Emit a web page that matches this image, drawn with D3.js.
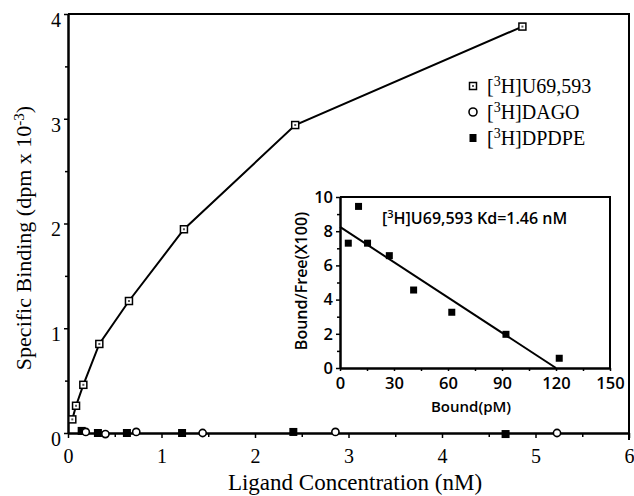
<!DOCTYPE html>
<html>
<head>
<meta charset="utf-8">
<script src="https://cdn.jsdelivr.net/npm/d3@7"></script>
<style>
  body { margin: 0; background: #fff; }
  svg { display: block; }
  .serif { font-family: "Liberation Serif", "DejaVu Serif", serif; }
  .sans { font-family: "Open Sans", "DejaVu Sans", sans-serif; font-weight: 600; }
</style>
</head>
<body>
<div id="chart"></div>
<script>
// main panel: specific binding vs ligand concentration
var u69Conc = [0.046, 0.086, 0.164, 0.335, 0.652, 1.24, 2.43, 4.86];
var u69Bound = [0.13, 0.26, 0.46, 0.85, 1.26, 1.945, 2.94, 3.88];
var dagoConc = [0.19, 0.40, 0.73, 1.44, 2.86, 5.23];
var dagoBound = [0.01, -0.01, 0.01, 0.0, 0.01, 0.0];
var dpdpeConc = [0.146, 0.32, 0.63, 1.22, 2.41, 4.68];
var dpdpeBound = [0.02, 0.0, 0.0, 0.0, 0.01, -0.01];
var mainXTicks = [0, 1, 2, 3, 4, 5, 6];
var mainXMinor = [0.5, 1.5, 2.5, 3.5, 4.5, 5.5];
var mainYTicks = [0, 1, 2, 3, 4];
var mainYMinor = [0.5, 1.5, 2.5, 3.5];

// inset: Scatchard plot
var scatBound = [4.6, 10.3, 15.3, 27.4, 40.9, 62.1, 92.2, 121.8];
var scatRatio = [7.3, 9.45, 7.3, 6.57, 4.56, 3.26, 1.97, 0.57];
var fitBound = [0, 120];
var fitRatio = [8.25, 0];
var insetXTicks = [0, 30, 60, 90, 120, 150];
var insetXMinor = [15, 45, 75, 105, 135];
var insetYTicks = [0, 2, 4, 6, 8, 10];
var insetYMinor = [1, 3, 5, 7, 9];

var legendNames = ["U69,593", "DAGO", "DPDPE"];

var svgWidth = 634;
var svgHeight = 496;

var svg = d3.select("#chart")
.append("svg")
.attr("width", svgWidth)
.attr("height", svgHeight);

var x = d3.scaleLinear().domain([0, 6]).range([68, 629]);
var y = d3.scaleLinear().domain([0, 4]).range([433, 14]);

// frame (top and right)
svg.append("path")
.attr("d", `M${x(0)},${y(4)}H${x(6)}V${y(0) + 7}`)
.attr("fill", "none")
.attr("stroke", "#000")
.attr("stroke-width", 2);

var xAxis = svg.append("g")
.attr("class", "serif")
.attr("transform", `translate(0,${y(0)})`)
.call(d3.axisBottom(x).tickValues(mainXTicks).tickFormat(d3.format("d")).tickSize(5).tickSizeOuter(0).tickPadding(11));
svg.append("g")
.attr("transform", `translate(0,${y(0)})`)
.call(d3.axisBottom(x).tickValues(mainXMinor).tickFormat("").tickSize(4).tickSizeOuter(0));

var yAxis = svg.append("g")
.attr("class", "serif")
.attr("transform", `translate(${x(0)},0)`)
.call(d3.axisLeft(y).tickValues(mainYTicks).tickFormat(d3.format("d")).tickSize(4).tickSizeOuter(0).tickPadding(3));
svg.append("g")
.attr("transform", `translate(${x(0)},0)`)
.call(d3.axisLeft(y).tickValues(mainYMinor).tickFormat("").tickSize(3).tickSizeOuter(0));

svg.selectAll(".domain").attr("stroke-width", 2);
svg.selectAll(".tick line").attr("stroke-width", 1.5);
xAxis.selectAll("text").attr("font-size", 20).attr("fill", "#000");
yAxis.selectAll("text").attr("font-size", 20).attr("dy", "0.62em").attr("fill", "#000");

// axis titles
svg.append("text")
.attr("class", "serif")
.attr("x", 355)
.attr("y", 490)
.attr("text-anchor", "middle")
.attr("font-size", 23)
.text("Ligand Concentration (nM)");

var yTitle = svg.append("text")
.attr("class", "serif")
.attr("transform", "translate(31,238) rotate(-90)")
.attr("text-anchor", "middle")
.attr("font-size", 22);
yTitle.append("tspan").text("Specific Binding (dpm x 10");
yTitle.append("tspan").attr("dy", -7).attr("font-size", 15).text("-3");
yTitle.append("tspan").attr("dy", 7).text(")");

// data
var u69 = u69Conc.map((c, i) => ({c: c, b: u69Bound[i]}));
var dago = dagoConc.map((c, i) => ({c: c, b: dagoBound[i]}));
var dpdpe = dpdpeConc.map((c, i) => ({c: c, b: dpdpeBound[i]}));

svg.append("path")
.datum(u69)
.attr("fill", "none")
.attr("stroke", "#000")
.attr("stroke-width", 2)
.attr("d", d3.line().x(d => x(d.c)).y(d => y(d.b)));

function openSquare(g, cx, cy) {
    g.append("rect").attr("x", cx - 3.5).attr("y", cy - 3.5).attr("width", 7).attr("height", 7)
    .attr("fill", "#fff").attr("stroke", "#000").attr("stroke-width", 1.5);
    g.append("rect").attr("x", cx - 1).attr("y", cy - 1).attr("width", 2).attr("height", 2).attr("fill", "#555");
}

var u69Group = svg.append("g");
u69.forEach(d => openSquare(u69Group, x(d.c), y(d.b)));

svg.append("g")
.selectAll("rect")
.data(dpdpe)
.enter()
.append("rect")
.attr("x", d => x(d.c) - 4)
.attr("y", d => y(d.b) - 4)
.attr("width", 8)
.attr("height", 8)
.attr("fill", "#000");

svg.append("g")
.selectAll("circle")
.data(dago)
.enter()
.append("circle")
.attr("cx", d => x(d.c))
.attr("cy", d => y(d.b))
.attr("r", 3.6)
.attr("fill", "#fff")
.attr("stroke", "#000")
.attr("stroke-width", 1.6);

// legend
var legend = svg.append("g").attr("transform", "translate(473,86)");
legendNames.forEach(function(name, i) {
    var row = legend.append("g").attr("transform", `translate(0,${i * 26})`);
    if (i == 0) openSquare(row, 0, 0);
    if (i == 1) row.append("circle").attr("r", 4).attr("fill", "#fff").attr("stroke", "#000").attr("stroke-width", 1.6);
    if (i == 2) row.append("rect").attr("x", -3.5).attr("y", -4).attr("width", 7).attr("height", 8).attr("fill", "#000");
    var t = row.append("text").attr("class", "serif").attr("x", 14).attr("y", 7).attr("font-size", 20);
    t.append("tspan").text("[");
    t.append("tspan").attr("dy", -7).attr("font-size", 14).text("3");
    t.append("tspan").attr("dy", 7).text("H]" + name);
});

// inset
var ix = d3.scaleLinear().domain([0, 150]).range([340, 610]);
var iy = d3.scaleLinear().domain([0, 10]).range([368, 197]);

svg.append("path")
.attr("d", `M${ix(0)},${iy(10)}H${ix(150)}V${iy(0)}`)
.attr("fill", "none")
.attr("stroke", "#000")
.attr("stroke-width", 2);

var ixAxis = svg.append("g")
.attr("class", "sans inset")
.attr("transform", `translate(0,${iy(0)})`)
.call(d3.axisBottom(ix).tickValues(insetXTicks).tickSize(3).tickSizeOuter(0).tickPadding(6));
svg.append("g")
.attr("class", "inset")
.attr("transform", `translate(0,${iy(0)})`)
.call(d3.axisBottom(ix).tickValues(insetXMinor).tickFormat("").tickSize(3).tickSizeOuter(0));

var iyAxis = svg.append("g")
.attr("class", "sans inset")
.attr("transform", `translate(${ix(0)},0)`)
.call(d3.axisLeft(iy).tickValues(insetYTicks).tickSize(4).tickSizeOuter(0).tickPadding(3));
svg.append("g")
.attr("class", "inset")
.attr("transform", `translate(${ix(0)},0)`)
.call(d3.axisLeft(iy).tickValues(insetYMinor).tickFormat("").tickSize(3).tickSizeOuter(0));

svg.selectAll(".inset .domain").attr("stroke-width", 2);
svg.selectAll(".inset .tick line").attr("stroke-width", 1.5);
svg.selectAll(".inset text").attr("font-size", 16.5).attr("fill", "#000");

svg.append("text")
.attr("class", "sans")
.attr("x", 471)
.attr("y", 412)
.attr("text-anchor", "middle")
.attr("font-size", 15)
.text("Bound(pM)");

svg.append("text")
.attr("class", "sans")
.attr("transform", "translate(307,281) rotate(-90)")
.attr("text-anchor", "middle")
.attr("font-size", 16)
.text("Bound/Free(X100)");

var note = svg.append("text")
.attr("class", "sans")
.attr("x", 382)
.attr("y", 224)
.attr("font-size", 16);
note.append("tspan").text("[");
note.append("tspan").attr("dy", -6).attr("font-size", 11).text("3");
note.append("tspan").attr("dy", 6).text("H]U69,593 Kd=1.46 nM");

var fit = fitBound.map((b, i) => ({b: b, r: fitRatio[i]}));
svg.append("path")
.datum(fit)
.attr("fill", "none")
.attr("stroke", "#000")
.attr("stroke-width", 2)
.attr("d", d3.line().x(d => ix(d.b)).y(d => iy(d.r)));

var scat = scatBound.map((b, i) => ({b: b, r: scatRatio[i]}));
svg.append("g")
.selectAll("rect")
.data(scat)
.enter()
.append("rect")
.attr("x", d => ix(d.b) - 3.5)
.attr("y", d => iy(d.r) - 3.5)
.attr("width", 7)
.attr("height", 7)
.attr("fill", "#000");
</script>
</body>
</html>
